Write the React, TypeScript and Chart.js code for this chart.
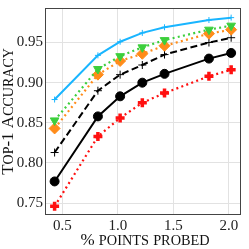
import React, { useEffect, useRef } from 'react';
import { Chart, registerables } from 'chart.js';

Chart.register(...registerables);

// ---- data ----
const xValues = [0.43, 0.82, 1.02, 1.22, 1.42, 1.82, 2.02];
const seriesCyan = [0.879, 0.934, 0.951, 0.962, 0.969, 0.978, 0.981];
const seriesGreen = [0.853, 0.917, 0.933, 0.944, 0.953, 0.966, 0.971];
const seriesOrange = [0.843, 0.910, 0.927, 0.936, 0.946, 0.961, 0.966];
const seriesDashed = [0.813, 0.890, 0.910, 0.922, 0.935, 0.950, 0.956];
const seriesSolid = [0.777, 0.858, 0.883, 0.900, 0.911, 0.930, 0.937];
const seriesRed = [0.746, 0.833, 0.856, 0.875, 0.887, 0.908, 0.916];
const xTicks = [0.5, 1.0, 1.5, 2.0];
const yTicks = [0.75, 0.8, 0.85, 0.9, 0.95];
const xTitle = '% points probed';
const yTitle = 'Top-1 Accuracy';

const FAMILY = "'Liberation Serif', serif";

function pts(ys: number[]) {
  return xValues.map((x, i) => ({ x, y: ys[i] }));
}

function drawSmallCaps(ctx: CanvasRenderingContext2D, text: string, cx: number, baseline: number, big: number, small: number) {
  const parts: { t: string; s: number; w: number }[] = [];
  for (const ch of text) {
    const lower = ch >= 'a' && ch <= 'z';
    parts.push({ t: lower ? ch.toUpperCase() : ch, s: lower ? small : big, w: 0 });
  }
  let total = 0;
  for (const p of parts) {
    ctx.font = `${p.s}px ${FAMILY}`;
    p.w = ctx.measureText(p.t).width;
    total += p.w;
  }
  let x = cx - total / 2;
  ctx.textAlign = 'left';
  ctx.textBaseline = 'alphabetic';
  ctx.fillStyle = '#111';
  for (const p of parts) {
    ctx.font = `${p.s}px ${FAMILY}`;
    ctx.fillText(p.t, x, baseline);
    x += p.w;
  }
}

const framePlugin = {
  id: 'frameAndTitles',
  afterDraw(chart: any) {
    const ctx: CanvasRenderingContext2D = chart.ctx;
    const a = chart.chartArea;
    ctx.save();
    ctx.strokeStyle = '#444';
    ctx.lineWidth = 1;
    ctx.strokeRect(a.left + 0.5, a.top + 0.5, a.right - a.left - 1, a.bottom - a.top - 1);
    // x title
    drawSmallCaps(ctx, xTitle, (a.left + a.right) / 2 + 2, 244.5, 17, 14.3);
    // y title
    ctx.translate(13.3, (a.top + a.bottom) / 2);
    ctx.rotate(-Math.PI / 2);
    drawSmallCaps(ctx, yTitle, 0, 0, 17, 14);
    ctx.restore();
  },
};

export default function App() {
  const ref = useRef<HTMLCanvasElement>(null);
  useEffect(() => {
    const canvas = ref.current!;
    const dotted = [2, 3.3];
    const chart = new Chart(canvas, {
      type: 'line',
      data: {
        datasets: [
          {
            data: pts(seriesGreen), borderColor: '#3ccf3c', backgroundColor: '#3ccf3c',
            borderWidth: 2.2, borderDash: dotted, pointStyle: 'triangle', rotation: 180,
            pointRadius: 5, pointBorderWidth: 1, order: 0,
          },
          {
            data: pts(seriesOrange), borderColor: '#ff8c1a', backgroundColor: '#ff8c1a',
            borderWidth: 2.2, borderDash: dotted, pointStyle: 'rectRot',
            pointRadius: 5.5, pointBorderWidth: 1, order: 1,
          },
          {
            data: pts(seriesCyan), borderColor: '#19b5ff', backgroundColor: '#19b5ff',
            borderWidth: 2, pointStyle: 'cross', pointRadius: 3, pointBorderWidth: 1, order: 2,
          },
          {
            data: pts(seriesDashed), borderColor: '#000', backgroundColor: '#000',
            borderWidth: 2, borderDash: [7, 3.5], pointStyle: 'cross', pointRadius: 4,
            pointBorderWidth: 1, order: 3,
          },
          {
            data: pts(seriesSolid), borderColor: '#000', backgroundColor: '#000',
            borderWidth: 2, pointStyle: 'circle', pointRadius: 4.5, pointBorderWidth: 1, order: 4,
          },
          {
            data: pts(seriesRed), borderColor: '#ff1010', backgroundColor: '#ff1010',
            borderWidth: 2.2, borderDash: dotted, pointStyle: 'cross', pointRadius: 4.5,
            pointBorderWidth: 3.5, order: 5,
          },
        ],
      },
      options: {
        animation: false,
        responsive: false,
        maintainAspectRatio: false,
        devicePixelRatio: 1,
        layout: { padding: { top: 1, right: 1, left: 0, bottom: 0 } },
        plugins: { legend: { display: false }, tooltip: { enabled: false }, title: { display: false } },
        elements: { line: { tension: 0, fill: false, borderCapStyle: 'butt' } },
        scales: {
          x: {
            type: 'linear',
            min: 0.3435,
            max: 2.1087,
            afterBuildTicks: (s: any) => { s.ticks = xTicks.map((v) => ({ value: v })); },
            afterFit: (s: any) => {
              s.height = 34; s.paddingLeft = 0; s.paddingRight = 0; s.paddingTop = 0; s.paddingBottom = 0;
            },
            ticks: {
              callback: (v: any) => Number(v).toFixed(1),
              font: { family: FAMILY, size: 15 }, color: '#222', padding: 2,
              maxRotation: 0, autoSkip: false,
            },
            grid: { color: '#e2e2e2', lineWidth: 1, drawTicks: false },
            border: { display: false },
          },
          y: {
            type: 'linear',
            min: 0.7352,
            max: 0.993,
            afterBuildTicks: (s: any) => { s.ticks = yTicks.map((v) => ({ value: v })); },
            afterFit: (s: any) => {
              s.width = 45; s.paddingLeft = 0; s.paddingRight = 0; s.paddingTop = 0; s.paddingBottom = 0;
            },
            ticks: {
              callback: (v: any) => Number(v).toFixed(2),
              font: { family: FAMILY, size: 15 }, color: '#222', padding: 2, autoSkip: false,
            },
            grid: { color: '#e2e2e2', lineWidth: 1, drawTicks: false },
            border: { display: false },
          },
        },
      },
      plugins: [framePlugin],
    } as any);
    return () => chart.destroy();
  }, []);
  return (
    <div style={{ position: 'fixed', left: 0, top: 0, width: 249, height: 249, background: '#fff' }}>
      <canvas ref={ref} width={249} height={249} style={{ width: 249, height: 249, display: 'block' }} />
    </div>
  );
}
